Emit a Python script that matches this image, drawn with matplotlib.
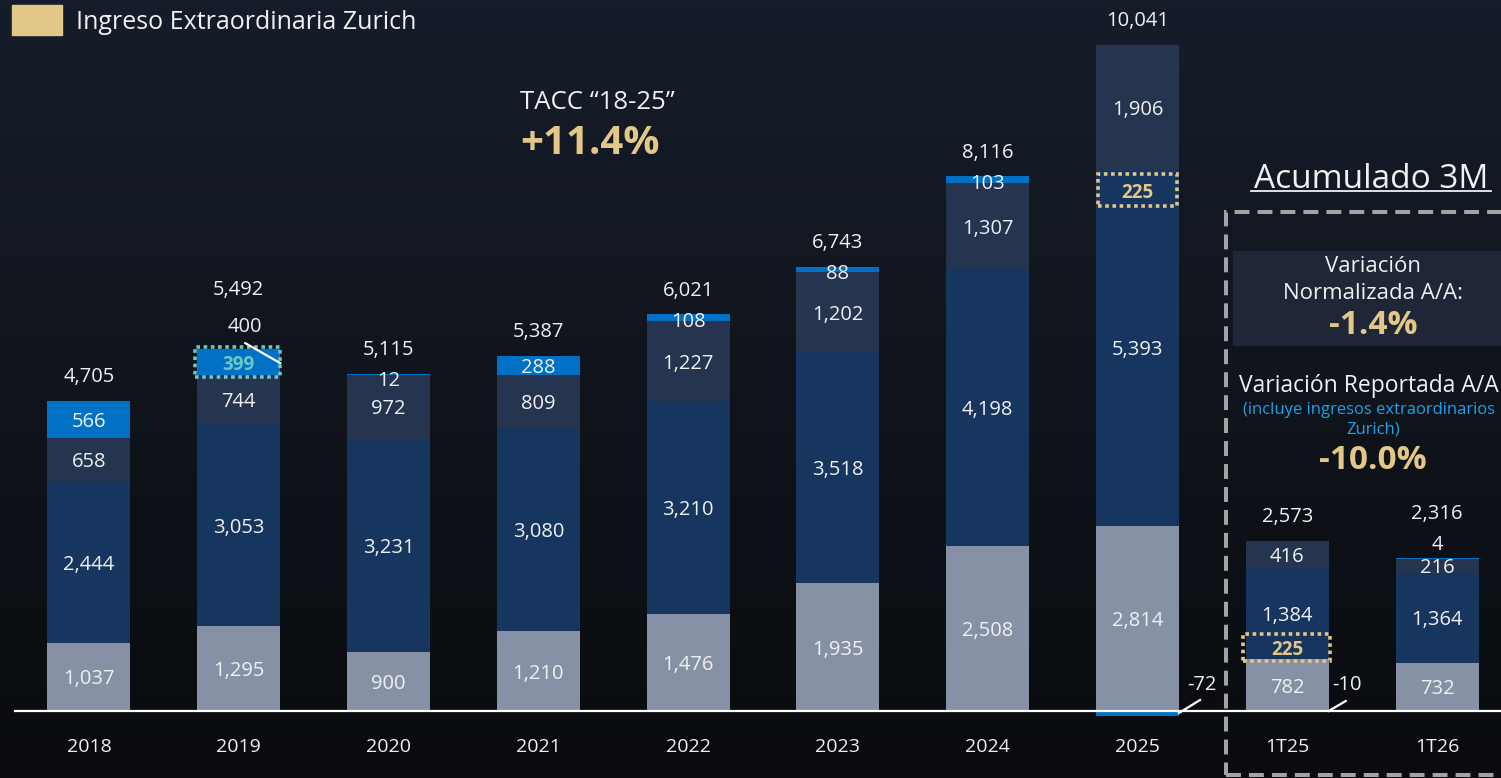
import numpy as np
import matplotlib
matplotlib.use("Agg")
import matplotlib.pyplot as plt
from matplotlib.patches import Rectangle
from matplotlib.lines import Line2D
from matplotlib.colors import LinearSegmentedColormap

# ---------------- data ----------------
categories = ['2018', '2019', '2020', '2021', '2022', '2023', '2024', '2025', '1T25', '1T26']
gray_vals = [1037, 1295, 900, 1210, 1476, 1935, 2508, 2814, 782, 732]
navy_vals = [2444, 3053, 3231, 3080, 3210, 3518, 4198, 5393, 1384, 1364]
slate_vals = [658, 744, 972, 809, 1227, 1202, 1307, 1906, 416, 216]
blue_vals = [566, 399, 12, 288, 108, 88, 103, -72, -10, 4]
total_vals = [4705, 5492, 5115, 5387, 6021, 6743, 8116, 10041, 2573, 2316]
zurich_cats = ['2025', '1T25']
zurich_vals = [225, 225]
note_2019 = '400'
legend_label = 'Ingreso Extraordinaria Zurich'
cagr_title = 'TACC “18-25”'
cagr_value = '+11.4%'
acum_title = 'Acumulado 3M'
norm_lines = ['Variación', 'Normalizada A/A:']
norm_value = '-1.4%'
rep_title = 'Variación Reportada A/A'
rep_sub = ['(incluye ingresos extraordinarios', 'Zurich)']
rep_value = '-10.0%'

# ---------------- style ----------------
C_GRAY = '#8791a6'
C_NAVY = '#17365f'
C_SLATE = '#25344f'
C_BLUE = '#0071c5'
C_GOLD = '#e3c787'
C_TEAL = '#6cc8bf'
C_TXT = '#f0f0f0'
C_SUB = '#1aa3e8'
C_BOX = '#1e2637'
C_DASH = '#a3a3a3'

FONT = ['Open Sans', 'DejaVu Sans']
plt.rcParams['font.family'] = FONT

W, H, DPI = 1501, 778, 100
fig = plt.figure(figsize=(W / DPI, H / DPI), dpi=DPI)

bg = fig.add_axes([0, 0, 1, 1])
bg.axis('off')
cmap = LinearSegmentedColormap.from_list('bg', ['#161d2a', '#10141c', '#090b0e'])
grad = np.linspace(0, 1, 256).reshape(-1, 1)
bg.imshow(grad, aspect='auto', cmap=cmap, extent=[0, 1, 0, 1], origin='upper')

ax = fig.add_axes([0, 0, 1, 1])
ax.set_facecolor('none')
ax.axis('off')

base_px = 711.0
ppu = 0.0659
XL = (-0.594, 9.427)
YL = (-(H - base_px) / ppu, base_px / ppu)
ax.set_xlim(XL)
ax.set_ylim(YL)
DX = (XL[1] - XL[0]) / W
DY = (YL[1] - YL[0]) / H
TXT_SHIFT = 2.5  # pixels down, to centre glyphs optically


def fx(px):
    return px / W


def fy(py):
    return 1 - py / H


def ftext(px, py, txt, **kw):
    fig.text(fx(px), fy(py + TXT_SHIFT), txt, **kw)


x = np.arange(len(categories))
w = 83 * DX
g = np.array(gray_vals, float)
n = np.array(navy_vals, float)
s = np.array(slate_vals, float)
b = np.array(blue_vals, float)
pos_b = np.where(b > 0, b, 0)
neg_b = np.where(b < 0, b, 0)

ax.bar(x, g, w, color=C_GRAY, zorder=2)
ax.bar(x, n, w, bottom=g, color=C_NAVY, zorder=2)
ax.bar(x, s, w, bottom=g + n, color=C_SLATE, zorder=2)
ax.bar(x, pos_b, w, bottom=g + n + s, color=C_BLUE, zorder=2)
ax.bar(x, neg_b, w, bottom=0, color=C_BLUE, zorder=2)

# baseline
ax.plot([XL[0] + 15 * DX, XL[1]], [0, 0], color='white', lw=1.6, zorder=5)

fs = 14.5


def lab(xx, yy, txt, **kw):
    d = dict(ha='center', va='center', color=C_TXT, fontsize=fs, zorder=6)
    d.update(kw)
    ax.text(xx, yy - TXT_SHIFT * DY, txt, **d)


tops = g + n + s + pos_b
for i, cat in enumerate(categories):
    lab(x[i], g[i] / 2, f'{gray_vals[i]:,}')
    lab(x[i], g[i] + n[i] / 2, f'{navy_vals[i]:,}')
    lab(x[i], g[i] + n[i] + s[i] / 2, f'{slate_vals[i]:,}')
    bv = blue_vals[i]
    extra = 0
    if cat == '2019':
        y0 = g[i] + n[i] + s[i]
        ax.add_patch(Rectangle((x[i] - w / 2 - 2 * DX, y0 - 2 * DY), w + 2 * DX, bv + 4 * DY,
                               fill=False, ec=C_TEAL, lw=2.6, ls=(0, (1, 1)), zorder=7))
        lab(x[i], y0 + bv / 2, f'{bv:,}', color=C_TEAL, fontweight='bold', fontsize=13.5)
        xr = x[i] + w / 2
        ax.plot([xr, xr - 35 * DX], [tops[i] - 14 * DY, tops[i] + 6 * DY], color='white', lw=1.6, zorder=8)
        lab(xr - 35 * DX, tops[i] + 25 * DY, note_2019)
        extra = 36
    elif bv >= 200:
        lab(x[i], tops[i] - bv / 2, f'{bv:,}')
    elif bv > 0:
        if cat == '1T26':
            lab(x[i], tops[i] + 16 * DY, f'{bv:,}')
            extra = 21
        else:
            lab(x[i], tops[i] - 5 * DY, f'{bv:,}')
    else:
        xr = x[i] + w / 2
        if cat == '2025':
            ax.plot([xr, xr + 21 * DX], [-2 * DY, 11 * DY], color='white', lw=1.6, zorder=8)
            lab(xr + 23 * DX, 29 * DY, f'{bv:,}')
        else:
            ax.plot([xr, xr + 17 * DX], [0, 10 * DY], color='white', lw=1.6, zorder=8)
            lab(xr + 18 * DX, 29 * DY, f'{bv:,}')
    lab(x[i], tops[i] + (26 + extra) * DY, f'{total_vals[i]:,}')
    lab(x[i], -34 * DY, cat, fontsize=14)

# Zurich extraordinary income boxes
for cat, val in zip(zurich_cats, zurich_vals):
    i = categories.index(cat)
    if cat == '2025':
        ytop = g[i] + n[i] - 4 * DY
        hh = 32 * DY
        x0 = x[i] - w / 2 + 2 * DX
        ww = w - 4 * DX
    else:
        ytop = g[i] + 25.5 * DY
        hh = 27 * DY
        x0 = x[i] - w / 2 - 3 * DX
        ww = w + 4 * DX
    ax.add_patch(Rectangle((x0, ytop - hh), ww, hh, fill=False, ec=C_GOLD, lw=2.6,
                           ls=(0, (1, 1)), zorder=7))
    lab(x[i], ytop - hh / 2, f'{val:,}', color=C_GOLD, fontweight='bold', fontsize=13.5)

# legend
fig.add_artist(Rectangle((fx(12), fy(35)), fx(50), 30 / H, transform=fig.transFigure,
                         color=C_GOLD, zorder=10))
ftext(76, 20, legend_label, color=C_TXT, fontsize=18, ha='left', va='center')

# CAGR
ftext(597, 100, cagr_title, color=C_TXT, fontsize=18.5, ha='center', va='center')
ftext(590, 141, cagr_value, color=C_GOLD, fontsize=29, fontweight='bold', ha='center', va='center')

# Acumulado 3M
ftext(1371, 177, acum_title, color=C_TXT, fontsize=24, ha='center', va='center')
fig.add_artist(Line2D([fx(1251), fx(1491)], [fy(191), fy(191)], transform=fig.transFigure,
                      color=C_TXT, lw=1.3))
fig.add_artist(Rectangle((fx(1226), fy(775)), fx(400), (775 - 212) / H, transform=fig.transFigure,
                         fill=False, ec=C_DASH, lw=2.9, ls=(0, (3.7, 2.0)), zorder=3))
fig.add_artist(Rectangle((fx(1233), fy(345)), fx(300), (345 - 251) / H, transform=fig.transFigure,
                         color=C_BOX, zorder=3))
ftext(1373, 264, norm_lines[0], color=C_TXT, fontsize=16, ha='center', va='center', zorder=11)
ftext(1373, 291, norm_lines[1], color=C_TXT, fontsize=16, ha='center', va='center', zorder=11)
ftext(1373, 323, norm_value, color=C_GOLD, fontsize=24, fontweight='bold',
      ha='center', va='center', zorder=11)
ftext(1239, 384, rep_title, color=C_TXT, fontsize=16.5, ha='left', va='center')
ftext(1243, 407, rep_sub[0], color=C_SUB, fontsize=12, ha='left', va='center')
ftext(1373, 427, rep_sub[1], color=C_SUB, fontsize=12, ha='center', va='center')
ftext(1373, 458, rep_value, color=C_GOLD, fontsize=24, fontweight='bold', ha='center', va='center')

fig.savefig('out.png', dpi=DPI)
